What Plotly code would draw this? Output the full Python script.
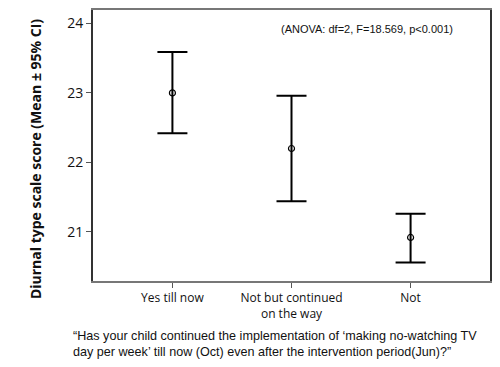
import plotly.graph_objects as go

categories = ["Yes till now", "Not but continued<br>on the way", "Not"]
means = [23.00, 22.20, 20.92]
upper = [23.59, 22.96, 21.26]
lower = [22.42, 21.44, 20.56]
y_ticks = [21, 22, 23, 24]

err_plus = [u - m for u, m in zip(upper, means)]
err_minus = [m - l for m, l in zip(means, lower)]
xpos = list(range(len(categories)))

fig = go.Figure()
fig.add_trace(go.Scatter(
    x=xpos, y=means, mode="markers",
    marker=dict(symbol="circle-open", size=6, color="black", line=dict(width=1.2, color="black")),
    error_y=dict(type="data", symmetric=False, array=err_plus, arrayminus=err_minus,
                 color="black", thickness=2, width=15),
    showlegend=False, hoverinfo="skip",
))

# page has an 8px body margin, so the figure is sized to fit inside it
fig.update_layout(
    width=484, height=351,
    margin=dict(l=85, r=2, t=0, b=78),
    plot_bgcolor="white", paper_bgcolor="white",
    font=dict(family="Open Sans, Liberation Sans, sans-serif", color="#111"),
    xaxis=dict(
        range=[-0.667, 2.667], tickmode="array", tickvals=xpos, ticktext=categories,
        showgrid=False, zeroline=False, showline=True, linecolor="#777", linewidth=2,
        mirror=True, ticks="outside", ticklen=5, tickcolor="#555",
        tickfont=dict(size=12, color="#111"),
    ),
    yaxis=dict(
        range=[20.293, 24.193], tickmode="array", tickvals=y_ticks,
        showgrid=False, zeroline=False, showline=True, linecolor="#333", linewidth=2,
        mirror=True, ticks="outside", ticklen=5, tickcolor="#555",
        tickfont=dict(size=14, color="#111"),
    ),
)

fig.add_annotation(
    text="<b>Diurnal type scale score (Mean ± 95% CI)</b>",
    xref="paper", yref="paper", x=-0.146, y=0.45, xanchor="center", yanchor="middle",
    textangle=-90, showarrow=False,
    font=dict(size=14, family="Open Sans, Liberation Sans, sans-serif", color="#111"),
)
fig.add_annotation(
    text="(ANOVA: df=2, F=18.569, p<0.001)", xref="paper", yref="paper",
    x=0.912, y=0.93, xanchor="right", yanchor="middle", showarrow=False,
    font=dict(size=11, family="Liberation Sans, Arial, sans-serif", color="#111"),
)
fig.add_annotation(
    text="\u201cHas your child continued the implementation of \u2018making no-watching TV<br>"
         "day per week\u2019 till now (Oct) even after the intervention period(Jun)?\u201d",
    xref="paper", yref="paper", x=0.458, y=-0.231, xanchor="center", yanchor="middle",
    showarrow=False, align="left",
    font=dict(size=12.6, family="Liberation Sans, Arial, sans-serif", color="#111"),
)

fig.write_html("out.html")
